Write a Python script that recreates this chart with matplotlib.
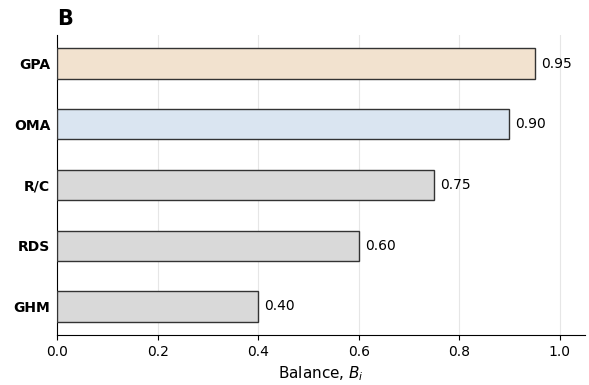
import matplotlib
matplotlib.use("Agg")
import matplotlib.pyplot as plt

# Balance index per method
methods = ["GPA", "OMA", "R/C", "RDS", "GHM"]
balance = [0.95, 0.90, 0.75, 0.60, 0.40]
bar_colors = ["#f2e2cf", "#dae5f1", "#d9d9d9", "#d9d9d9", "#d9d9d9"]

fig = plt.figure(figsize=(5.89, 3.85), dpi=100)
ax = fig.add_axes([0.097, 0.13, 0.896, 0.779])

y = list(range(len(methods)))[::-1]
bars = ax.barh(y, balance, height=0.5, color=bar_colors,
               edgecolor="#333333", linewidth=1.0, zorder=3)

for bar, val in zip(bars, balance):
    ax.text(bar.get_width() + 0.012, bar.get_y() + bar.get_height() / 2,
            f"{val:.2f}", va="center", ha="left", fontsize=10)

ax.set_yticks(y)
ax.set_yticklabels(methods, fontsize=10, fontweight="bold")
ax.tick_params(axis="y", length=0, pad=5)
ax.set_xlim(0, 1.05)
ax.set_ylim(-0.47, 4.47)
ax.set_xticks([0.0, 0.2, 0.4, 0.6, 0.8, 1.0])
ax.tick_params(axis="x", labelsize=10)
ax.set_xlabel("Balance, $B_i$", fontsize=11)

ax.grid(axis="x", color="#e6e6e6", linewidth=0.8, zorder=0)
ax.set_axisbelow(True)
ax.spines["top"].set_visible(False)
ax.spines["right"].set_visible(False)

ax.set_title("B", loc="left", fontsize=15, fontweight="bold", pad=7)

fig.savefig("out.png", dpi=100)
